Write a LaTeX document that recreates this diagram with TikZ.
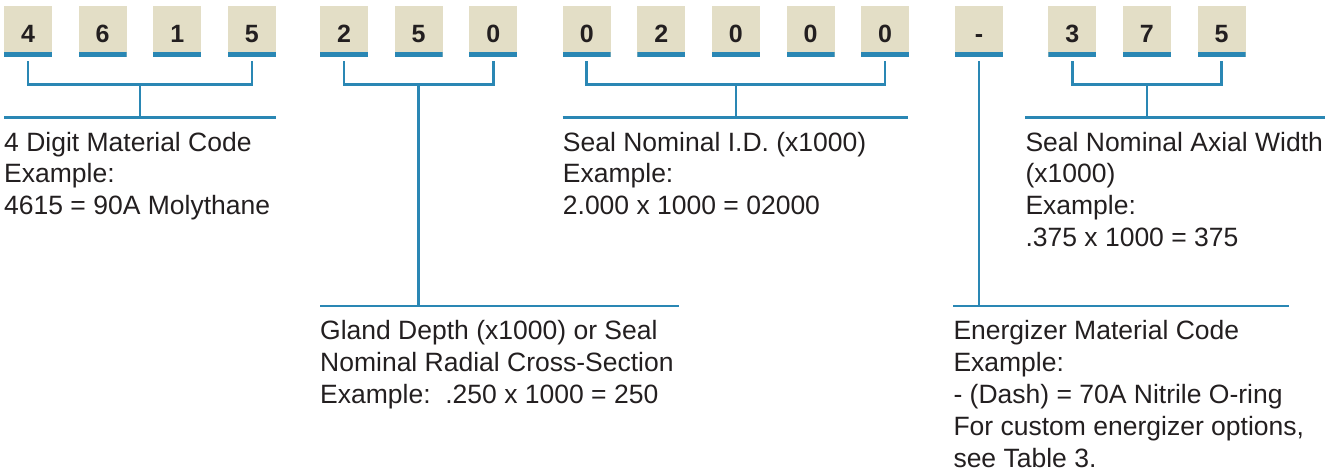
\documentclass[tikz,border=0pt]{standalone}
\usepackage{fontspec}
\setmainfont{Liberation Sans}
\usetikzlibrary{positioning}
\definecolor{codetan}{RGB}{227,222,198}
\definecolor{codeblue}{RGB}{42,135,180}
\definecolor{codeink}{RGB}{35,31,32}
\tikzset{
  digit/.style={fill=codetan, minimum width=48pt, minimum height=51pt,
    inner sep=0pt, text height=22.7pt, text depth=0pt, text=codeink,
    font=\bfseries\fontsize{25}{25}\selectfont,
    path picture={\fill[codeblue] (path picture bounding box.south west)
      rectangle ([yshift=5pt]path picture bounding box.south east);}},
  wire/.style={draw=codeblue, line width=2.6pt},
  desc/.style={anchor=north west, inner sep=0pt, align=left, text=codeink,
    font=\frenchspacing\fontsize{26.5}{31.8}\selectfont},
}
\begin{document}
\begin{tikzpicture}[x=1pt, y=-1pt]
    \useasboundingbox (0, 0) rectangle (1325, 474);

    % code boxes
    \foreach \x/\d/\n in {28/4/m1, 102.6/6/m2, 177.2/1/m3, 251.8/5/m4,
                          344/2/g1, 418.6/5/g2, 493.2/0/g3,
                          586.7/0/s1, 661.3/2/s2, 735.9/0/s3, 810.5/0/s4, 885.1/0/s5,
                          979/-/e1,
                          1072.3/3/w1, 1146.9/7/w2, 1221.5/5/w3}
      \node[digit] (\n) at (\x, 31.5) {\d};

    % rules under the brackets
    \coordinate (mL) at (4, 117.3);     \coordinate (mR) at (276, 117.3);
    \coordinate (gL) at (320, 306);     \coordinate (gR) at (679, 306);
    \coordinate (sL) at (562.7, 117.3); \coordinate (sR) at (908, 117.3);
    \coordinate (eL) at (953.3, 306);   \coordinate (eR) at (1289, 306);
    \coordinate (wL) at (1025.3, 117.3); \coordinate (wR) at (1325, 117.3);
    \draw[wire] (mL) -- (mR);
    \draw[wire] (gL) -- (gR);
    \draw[wire] (sL) -- (sR);
    \draw[wire] (eL) -- (eR);
    \draw[wire] (wL) -- (wR);

    % brackets
    \draw[wire] ([yshift=-4pt]m1.south) |- coordinate[pos=.75] (mj) ([yshift=-27pt]m4.south) -- ([yshift=-4pt]m4.south);
    \draw[wire] ([yshift=-4pt]g1.south) |- coordinate[pos=.75] (gj) ([yshift=-27pt]g3.south) -- ([yshift=-4pt]g3.south);
    \draw[wire] ([yshift=-4pt]s1.south) |- coordinate[pos=.75] (sj) ([yshift=-27pt]s5.south) -- ([yshift=-4pt]s5.south);
    \draw[wire] ([yshift=-4pt]w1.south) |- coordinate[pos=.75] (wj) ([yshift=-27pt]w3.south) -- ([yshift=-4pt]w3.south);

    % stems
    \draw[wire] (mj) -- (mj |- mL);
    \draw[wire] (gj) -- (gj |- gL);
    \draw[wire] (sj) -- (sj |- sL);
    \draw[wire] (wj) -- (wj |- wL);
    \draw[wire] ([yshift=-4pt]e1.south) -- (e1 |- eL);

    % descriptions
    \node[desc] (mtxt) at ([yshift=-14.4pt]mL) {4 Digit Material Code\\Example:\\4615 = 90A Molythane};
    \node[desc] (gtxt) at ([yshift=-14.4pt]gL) {Gland Depth (x1000) or Seal\\Nominal Radial Cross-Section\\Example:\ \ .250 x 1000 = 250};
    \node[desc] (stxt) at ([yshift=-14.4pt]sL) {Seal Nominal I.D. (x1000)\\Example:\\2.000 x 1000 = 02000};
    \node[desc] (etxt) at ([yshift=-14.4pt]eL) {Energizer Material Code\\Example:\\- (Dash) = 70A Nitrile O-ring\\For custom energizer options,\\see Table 3.};
    \node[desc] (wtxt) at ([yshift=-14.4pt]wL) {Seal Nominal Axial Width\\(x1000)\\Example:\\.375 x 1000 = 375};
  \end{tikzpicture}
\end{document}
